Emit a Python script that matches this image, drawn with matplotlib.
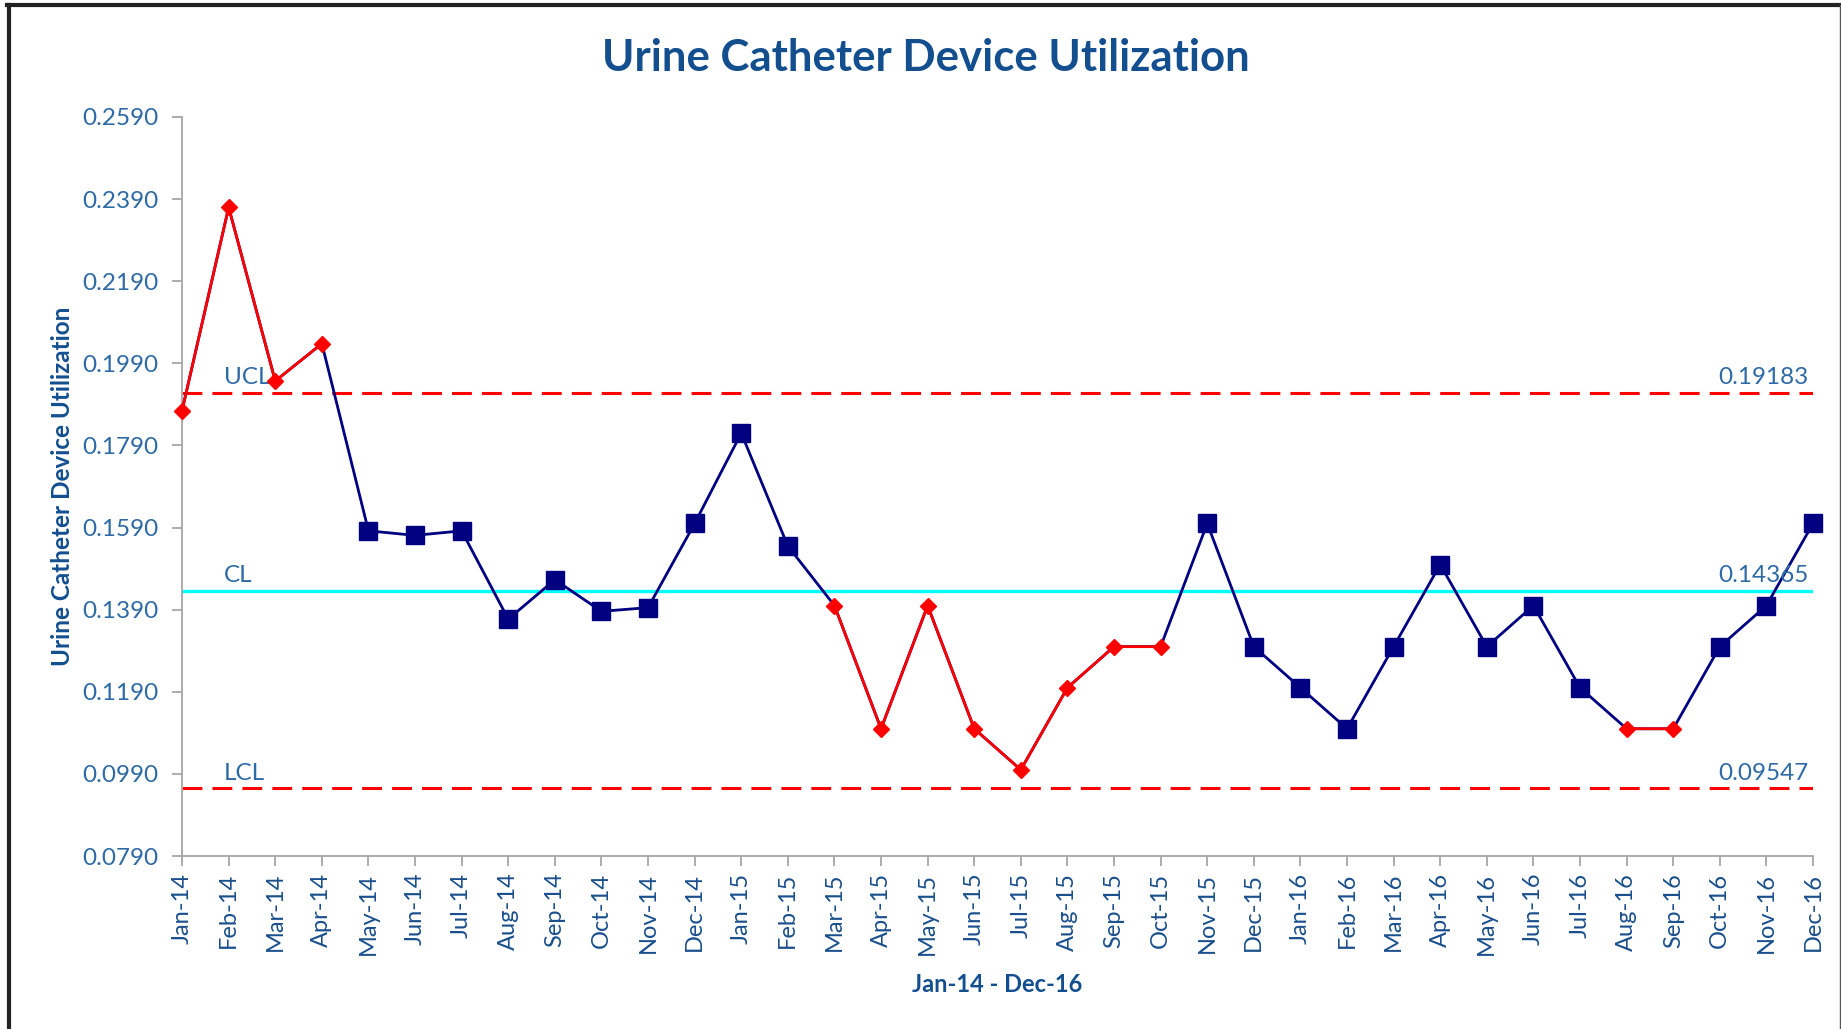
import numpy as np
import matplotlib.pyplot as plt
from matplotlib.lines import Line2D

# Datos del gráfico de control
months = ["Jan", "Feb", "Mar", "Apr", "May", "Jun", "Jul", "Aug", "Sep", "Oct", "Nov", "Dec"]
years = ["14", "15", "16"]
labels = [f"{m}-{y}" for y in years for m in months]

values = [0.1875, 0.237, 0.1947, 0.2038, 0.1582, 0.1571, 0.1582, 0.1367, 0.1463, 0.1386,
          0.1395, 0.160, 0.182, 0.1545, 0.140, 0.110, 0.140, 0.110, 0.100, 0.120,
          0.130, 0.130, 0.160, 0.130, 0.120, 0.110, 0.130, 0.150, 0.130, 0.140,
          0.120, 0.110, 0.110, 0.130, 0.140, 0.160]
# puntos señalados (en rojo)
flagged = [0, 1, 2, 3, 14, 15, 16, 17, 18, 19, 20, 21, 31, 32]

ucl = 0.19183
cl = 0.14365
lcl = 0.09547

yticks = [0.0790, 0.0990, 0.1190, 0.1390, 0.1590, 0.1790, 0.1990, 0.2190, 0.2390, 0.2590]

plt.rcParams['font.family'] = ['Lato', 'DejaVu Sans']

x = np.arange(len(values))
v = np.array(values)
red = np.zeros(len(v), dtype=bool)
red[flagged] = True
v_red = np.where(red, v, np.nan)
v_blue = np.where(~red, v, np.nan)

fig = plt.figure(figsize=(18.41, 10.29), dpi=100)
ax = fig.add_axes([0.0989, 0.1681, 0.8859, 0.7182])

title_c = '#134f8f'
tick_c = '#2e6aa6'

# lineas de control
dash = (0, (6.5, 3.3))
ax.plot([0, 35], [ucl, ucl], color='#ff0000', lw=2.2, linestyle=dash, zorder=2)
ax.plot([0, 35], [lcl, lcl], color='#ff0000', lw=2.2, linestyle=dash, zorder=2)
ax.plot([0, 35], [cl, cl], color='#00ffff', lw=2.4, zorder=2)

# serie
ax.plot(x, v, color='#000080', lw=2.0, zorder=3, clip_on=False)
ax.plot(x, v_red, color='#ff0000', lw=2.0, zorder=4, clip_on=False)
ax.plot(x, v_blue, linestyle='none', marker='s', markersize=13.5, color='#000080', zorder=5, clip_on=False)
ax.plot(x, v_red, linestyle='none', marker='D', markersize=8.5, color='#ff0000', zorder=5, clip_on=False)

# etiquetas de las lineas
for name, val in [("UCL", ucl), ("CL", cl), ("LCL", lcl)]:
    ax.annotate(name, (0.9, val), xytext=(0, 6), textcoords='offset points',
                ha='left', va='baseline', fontsize=17.5, color=tick_c)
    ax.annotate(f"{val:.5f}", (34.9, val), xytext=(0, 6), textcoords='offset points',
                ha='right', va='baseline', fontsize=17.5, color=tick_c)

ax.set_xlim(0, 35)
ax.set_ylim(0.079, 0.259)
ax.set_yticks(yticks)
ax.set_yticklabels([f"{t:.4f}" for t in yticks])
ax.set_xticks(x)
ax.set_xticklabels(labels, rotation=90)

for s in ['top', 'right']:
    ax.spines[s].set_visible(False)
for s in ['left', 'bottom']:
    ax.spines[s].set_color('#a6a6a6')
    ax.spines[s].set_linewidth(1.3)

ax.tick_params(axis='y', direction='out', length=7, width=1.3, color='#a6a6a6',
               labelsize=17.5, labelcolor=tick_c, pad=10)
ax.tick_params(axis='x', direction='out', length=7, width=1.3, color='#a6a6a6',
               labelsize=17, labelcolor='#1a4f8c', pad=5)

ax.set_ylabel('Urine Catheter Device Utilization', fontsize=17.5, fontweight='bold',
              color=title_c, labelpad=6)
fig.text(0.5418, 1 - 984 / 1029, 'Jan-14 - Dec-16', ha='center', va='center',
         fontsize=17, fontweight='bold', color=title_c)
fig.text(0.503, 1 - 58 / 1029, 'Urine Catheter Device Utilization', ha='center', va='center',
         fontsize=31.5, fontweight='bold', color=title_c)

# marco
fig.add_artist(Line2D([9 / 1841, 9 / 1841], [0, 1 - 5 / 1029], transform=fig.transFigure,
                      color='#222222', lw=3))
fig.add_artist(Line2D([7 / 1841, 1], [1 - 5 / 1029, 1 - 5 / 1029], transform=fig.transFigure,
                      color='#222222', lw=3))
fig.add_artist(Line2D([1839.5 / 1841, 1839.5 / 1841], [0, 1 - 5 / 1029], transform=fig.transFigure,
                      color='#555555', lw=1))

fig.savefig('out.png', dpi=100)
